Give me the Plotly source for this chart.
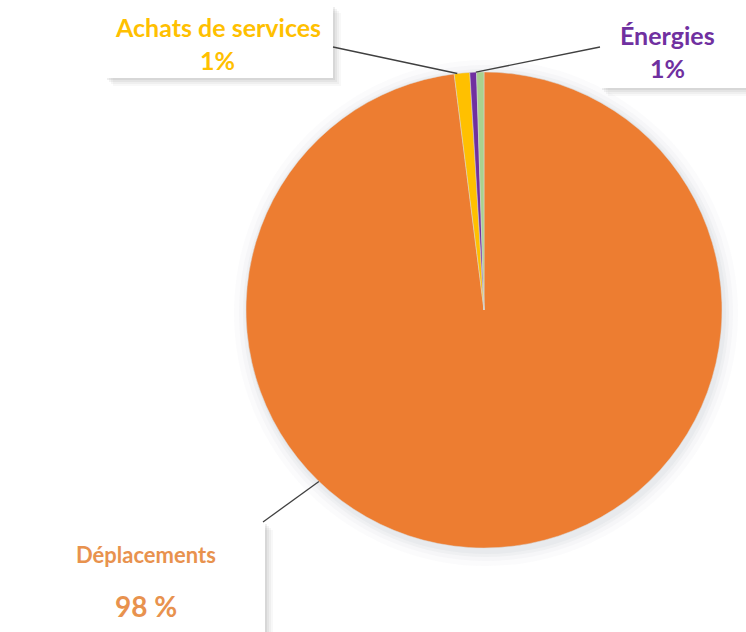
import math
import plotly.graph_objects as go

# --- data ---
categories = ["Déplacements", "Achats de services", "Énergies", "Autres"]
values = [98.0, 1.05, 0.45, 0.5]
colors = ["#ED7D31", "#FFC000", "#7030A0", "#A9D18E"]
label_names = ["Déplacements", "Achats de services", "Énergies"]
label_pcts = ["98 %", "1%", "1%"]
label_colors = ["#E8924E", "#FFC000", "#7030A0"]

W, H = 746, 632
CX, CY, R = 484, 310, 238   # pie centre / radius in pixels


def px(x):
    return x / W


def py(y):
    return 1 - y / H


fig = go.Figure()

fig.add_trace(go.Pie(
    labels=categories, values=values, sort=False, direction="clockwise", rotation=0,
    marker=dict(colors=colors, line=dict(color="#d9d9d9", width=0.5)),
    textinfo="none", hoverinfo="label+percent", showlegend=False,
    domain=dict(x=[px(CX - R), px(CX + R)], y=[py(CY + R), py(CY - R)]),
))

shapes = []

# soft shadow behind the pie
for grow, op in [(14, 0.04), (9, 0.05), (5, 0.07), (2, 0.08)]:
    shapes.append(dict(type="circle", xref="paper", yref="paper", layer="below",
                       x0=px(CX - R - grow + 2), x1=px(CX + R + grow + 2),
                       y0=py(CY + R + grow + 4), y1=py(CY - R - grow + 2),
                       fillcolor="#9aa5b1", opacity=op, line_width=0))

# label boxes (x0, y0, x1, y1 in px) with drop shadow
boxes = [(8, 522, 265, 640), (105, 5, 333, 78), (600, 5, 760, 88)]
for (x0, y0, x1, y1) in boxes:
    for off, op in [(8, 0.05), (6, 0.07), (4, 0.09), (2, 0.12)]:
        shapes.append(dict(type="rect", xref="paper", yref="paper", layer="below",
                           x0=px(x0 + off), x1=px(x1 + off), y0=py(y1 + off), y1=py(y0 + off),
                           fillcolor="#7f7f7f", opacity=op, line_width=0))
    shapes.append(dict(type="rect", xref="paper", yref="paper", layer="below",
                       x0=px(x0), x1=px(x1), y0=py(y1), y1=py(y0),
                       fillcolor="white", line_width=0))


def edge(frac):
    a = 2 * math.pi * frac
    return CX + R * math.sin(a), CY - R * math.cos(a)


total = sum(values)
cum = [sum(values[:i]) / total for i in range(len(values))]

# leader lines: box edge -> pie edge
ax_, ay_ = edge(cum[1] + 0.2 * values[1] / total)
ex_, ey_ = edge(cum[2] + 0.9 * values[2] / total)
dx_, dy_ = edge(0.622)
leaders = [((263, 522), (dx_, dy_)), ((333, 47), (ax_, ay_)), ((600, 47), (ex_, ey_))]
for (x0, y0), (x1, y1) in leaders:
    shapes.append(dict(type="line", xref="paper", yref="paper",
                       x0=px(x0), y0=py(y0), x1=px(x1), y1=py(y1),
                       line=dict(color="#404040", width=1.3)))

annotations = []
# (x, y of name line, y of pct line, name size, pct size)
spots = [(146, 554, 606, 22, 28), (218, 27, 60, 25, 25), (667, 35, 68, 25, 25)]
for name, pct, col, (x, y1, y2, fs1, fs2) in zip(label_names, label_pcts, label_colors, spots):
    for txt, y, fs in [(name, y1, fs1), (pct, y2, fs2)]:
        annotations.append(dict(text=txt, x=px(x), y=py(y), xref="paper", yref="paper",
                                showarrow=False, xanchor="center", yanchor="middle",
                                font=dict(family="Lato, Open Sans, sans-serif", size=fs,
                                          color=col, weight="bold")))

fig.update_layout(
    width=W, height=H, margin=dict(l=0, r=0, t=0, b=0),
    paper_bgcolor="white", plot_bgcolor="white",
    shapes=shapes, annotations=annotations,
)

fig.write_html("out.html", config={"displayModeBar": False},
               post_script="document.body.style.margin='0';")
